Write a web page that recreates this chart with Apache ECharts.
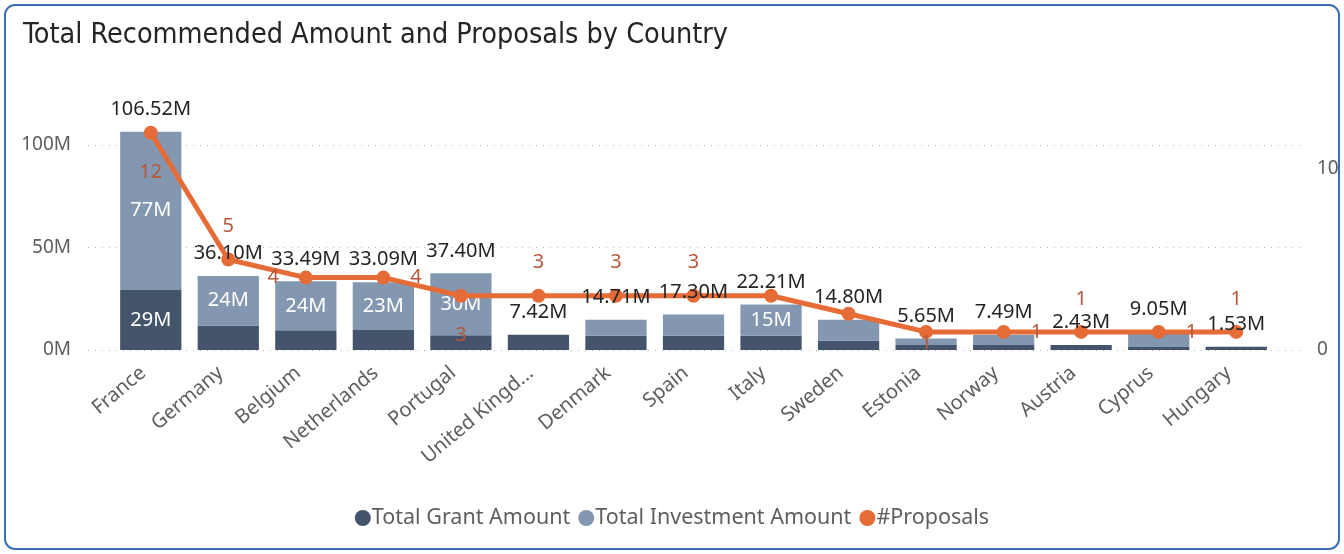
<!DOCTYPE html>
<html>
<head>
<meta charset="utf-8">
<script src="https://cdn.jsdelivr.net/npm/echarts@6/dist/echarts.min.js"></script>
<style>
  html, body { margin: 0; padding: 0; background: #ffffff; }
  #chart { width: 1344px; height: 554px; }
</style>
</head>
<body>
<div id="chart"></div>
<script>
// ---- Data ----
const countries = ['France', 'Germany', 'Belgium', 'Netherlands', 'Portugal', 'United Kingdom', 'Denmark', 'Spain', 'Italy', 'Sweden', 'Estonia', 'Norway', 'Austria', 'Cyprus', 'Hungary'];
const grantAmount = [29.3, 12.0, 9.6, 9.8, 7.2, 7.42, 7.0, 7.0, 7.0, 4.5, 2.4, 2.4, 2.43, 1.5, 1.53];       // millions
const investmentAmount = [77.22, 24.1, 23.89, 23.29, 30.2, 0, 7.71, 10.3, 15.21, 10.3, 3.25, 5.09, 0, 7.55, 0]; // millions
const totalAmount = [106.52, 36.10, 33.49, 33.09, 37.40, 7.42, 14.71, 17.30, 22.21, 14.80, 5.65, 7.49, 2.43, 9.05, 1.53]; // millions
const proposals = [12, 5, 4, 4, 3, 3, 3, 3, 3, 2, 1, 1, 1, 1, 1];

// ---- Styling (label placement for #Proposals, mimicking collision placement) ----
const proposalLabelPos = ['bottom', 'top', 'left', 'right', 'bottom', 'top', 'top', 'top', null, null, 'under', 'right', 'top', 'right', 'top'];
const posDistance = { top: 16, bottom: 23, left: 20, right: 20, under: -6 };

const FONT = 'Noto Sans';
const C_GRANT = '#44546A';
const C_INV = '#8497B0';
const C_LINE = '#E66C37';
const C_PLBL = '#B5573A';
const C_AXIS = '#605E5C';

const LEFT_MAX = 120;
const RIGHT_MAX = 13.59;

const chart = echarts.init(document.getElementById('chart'), null, { renderer: 'canvas' });

const innerLabel = {
  show: true,
  position: 'inside',
  color: '#ffffff',
  fontFamily: FONT,
  fontSize: 20,
  formatter: p => (p.value >= 14 ? Math.round(p.value) + 'M' : '')
};

const option = {
  animation: false,
  backgroundColor: '#ffffff',
  textStyle: { fontFamily: FONT },
  graphic: [{
    type: 'rect',
    shape: { x: 5, y: 5, width: 1334, height: 544, r: 10 },
    style: { fill: 'none', stroke: '#3A6FB5', lineWidth: 2 },
    silent: true
  }],
  title: {
    text: 'Total Recommended Amount and Proposals by Country',
    left: 18,
    top: 16,
    textStyle: { fontFamily: 'DejaVu Sans Condensed', fontSize: 28.5, fontWeight: 'normal', color: '#252423' }
  },
  legend: {
    bottom: 20,
    left: 'center',
    icon: 'circle',
    itemWidth: 16,
    itemHeight: 16,
    itemGap: 8,
    textStyle: { fontFamily: FONT, fontSize: 21.5, color: C_AXIS, padding: [0, 0, 0, -4] },
    data: ['Total Grant Amount', 'Total Investment Amount', '#Proposals']
  },
  grid: [
    { left: 88, right: 44, top: 104, bottom: 204 },
    { left: 112, right: 69, top: 104, bottom: 204 }
  ],
  xAxis: [
    { type: 'category', gridIndex: 0, data: countries, show: false },
    {
      type: 'category', gridIndex: 1, data: countries,
      axisLine: { show: false }, axisTick: { show: false },
      axisLabel: {
        rotate: 40, interval: 0, color: C_AXIS, fontFamily: FONT, fontSize: 20, margin: 14,
        padding: [0, 10, 0, 0],
        formatter: v => (v.length > 12 ? v.slice(0, 12) + '...' : v)
      }
    }
  ],
  yAxis: [
    {
      type: 'value', gridIndex: 0, min: 0, max: LEFT_MAX, interval: 50, position: 'left',
      axisLine: { show: false }, axisTick: { show: false },
      axisLabel: { showMaxLabel: false, color: C_AXIS, fontFamily: FONT, fontSize: 19, margin: 17, formatter: v => v + 'M' },
      splitLine: { show: true, lineStyle: { type: [1, 6], color: ['#B8B6B4', '#B8B6B4', '#B8B6B4', 'rgba(0,0,0,0)'], width: 1.2 } }
    },
    {
      type: 'value', gridIndex: 0, min: 0, max: RIGHT_MAX, interval: 10, position: 'right',
      axisLine: { show: false }, axisTick: { show: false },
      axisLabel: { showMaxLabel: false, color: C_AXIS, fontFamily: FONT, fontSize: 19, margin: 17 },
      splitLine: { show: false }
    },
    { type: 'value', gridIndex: 1, min: 0, max: LEFT_MAX, show: false },
    { type: 'value', gridIndex: 1, min: 0, max: RIGHT_MAX, show: false }
  ],
  series: [
    {
      name: 'Total Grant Amount', type: 'bar', stack: 'amt', xAxisIndex: 1, yAxisIndex: 2,
      data: grantAmount, barCategoryGap: '21%', itemStyle: { color: C_GRANT }, label: innerLabel
    },
    {
      name: 'Total Investment Amount', type: 'bar', stack: 'amt', xAxisIndex: 1, yAxisIndex: 2,
      data: investmentAmount, barCategoryGap: '21%', itemStyle: { color: C_INV }, label: innerLabel
    },
    {
      name: 'Total', type: 'line', xAxisIndex: 1, yAxisIndex: 2, data: totalAmount,
      symbol: 'circle', symbolSize: 1, showSymbol: true,
      itemStyle: { color: 'rgba(0,0,0,0)' },
      lineStyle: { width: 0, color: 'rgba(0,0,0,0)' }, silent: true, z: 5,
      label: {
        show: true, position: 'top', distance: 12, color: '#252423', fontFamily: FONT, fontSize: 20,
        formatter: p => p.value.toFixed(2) + 'M'
      }
    },
    {
      name: '#Proposals', type: 'line', xAxisIndex: 1, yAxisIndex: 3,
      data: proposals.map((v, i) => {
        const pos = proposalLabelPos[i];
        if (!pos) return { value: v, label: { show: false } };
        return {
          value: v,
          label: { show: true, position: pos === 'under' ? 'bottom' : pos, distance: posDistance[pos] }
        };
      }),
      symbol: 'circle', symbolSize: 14, z: 4,
      itemStyle: { color: C_LINE },
      lineStyle: { color: C_LINE, width: 5 },
      label: { show: true, color: C_PLBL, fontFamily: FONT, fontSize: 20 }
    }
  ]
};

chart.setOption(option);
</script>
</body>
</html>
